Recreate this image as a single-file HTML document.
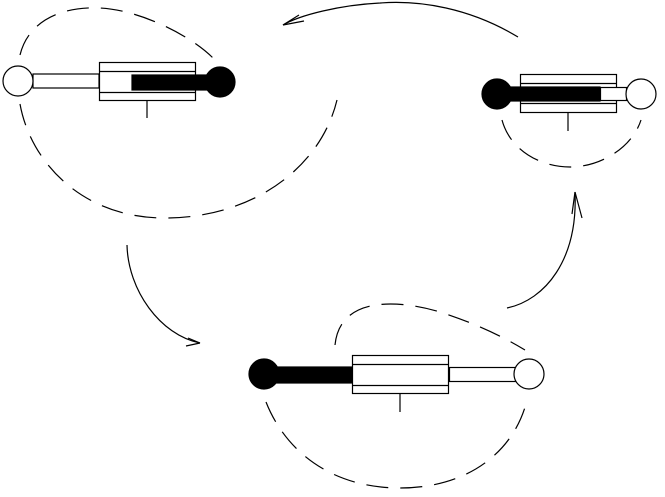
<!DOCTYPE html>
<html><head><meta charset="utf-8"><style>html,body{margin:0;padding:0;background:#fff}svg{display:block}</style></head>
<body>
<svg width="665" height="497" viewBox="0 0 665 497" xmlns="http://www.w3.org/2000/svg">
<g fill="none" stroke="#000" stroke-width="1.2">
<g stroke-dasharray="22,12">
<path d="M20,55 C28,22 60,6 100,8 C140,10 190,35 213,58"/>
<path d="M20,104 C30,160 80,218 165,218 C250,218 320,170 337,100"/>
<path d="M502,120 C510,150 540,167 570,167 C600,167 632,148 641,120"/>
<path d="M335,345 C340,295 400,300 440,312 C480,325 505,338 525,350"/>
<path d="M266,402 C285,450 330,488 400,488 C470,488 515,450 527,400"/>
</g>
<path d="M518,37 C470,8 420,0 380,3 C340,5 300,15 283,25"/>
<path d="M283,25 L299,15 M283,25 L304,21"/>
<path d="M127,245 C128,290 160,335 200,343"/>
<path d="M200,343 L188,338 M200,343 L186,346"/>
<path d="M507,308 C545,300 578,260 575,192"/>
<path d="M575,192 L572,214 M575,192 L582,218"/>
</g>
<g stroke="#000" stroke-width="1.2">
<rect x="33" y="74" width="66" height="14" fill="#fff"/>
<rect x="99.5" y="62.5" width="96" height="38" fill="#fff"/>
<line x1="99.5" y1="71.5" x2="195.5" y2="71.5"/>
<line x1="99.5" y1="92.5" x2="195.5" y2="92.5"/>
<rect x="132" y="75" width="80" height="15" fill="#000"/>
<line x1="147" y1="100" x2="147" y2="118"/>
<circle cx="18" cy="81" r="15" fill="#fff"/>
<circle cx="220" cy="82" r="15" fill="#000"/>
<rect x="520.5" y="74.5" width="96" height="38" fill="#fff"/>
<line x1="520.5" y1="83.5" x2="616.5" y2="83.5"/>
<line x1="520.5" y1="103.5" x2="616.5" y2="103.5"/>
<rect x="600.5" y="87.5" width="26" height="13" fill="#fff"/>
<rect x="505" y="87" width="95" height="14" fill="#000"/>
<line x1="568" y1="112" x2="568" y2="131"/>
<circle cx="641" cy="94" r="15" fill="#fff"/>
<circle cx="497" cy="94" r="15" fill="#000"/>
<rect x="270" y="367" width="83" height="16" fill="#000"/>
<rect x="352.5" y="355.5" width="96" height="38" fill="#fff"/>
<line x1="352.5" y1="364.5" x2="448.5" y2="364.5"/>
<line x1="352.5" y1="385.5" x2="448.5" y2="385.5"/>
<rect x="449.5" y="367.5" width="66" height="14" fill="#fff"/>
<line x1="400" y1="393" x2="400" y2="412"/>
<circle cx="529" cy="374" r="15" fill="#fff"/>
<circle cx="264" cy="374" r="15" fill="#000"/>
</g>
</svg>
</body></html>
